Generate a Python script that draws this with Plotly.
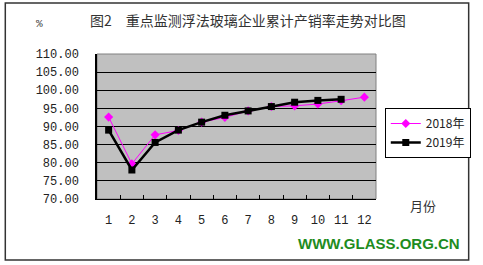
import plotly.graph_objects as go

months = [str(i) for i in range(1, 13)]
rate_2018 = [92.6, 79.7, 87.7, 88.9, 91.2, 92.5, 94.3, 95.5, 95.7, 96.2, 97.1, 98.1]
rate_2019 = [89.0, 78.0, 85.6, 89.0, 91.2, 93.1, 94.3, 95.5, 96.7, 97.2, 97.5]
yticks = [70, 75, 80, 85, 90, 95, 100, 105, 110]
ytick_text = ["%.2f" % v for v in yticks]

W, H = 483, 265
L, R, T, B = 97, 383, 54, 199

def px(x):
    return (x - L) / (R - L)

def py(y):
    return (B - y) / (B - T)

fig = go.Figure()
fig.add_trace(go.Scatter(
    x=months, y=rate_2018, name="2018年", mode="lines+markers",
    line=dict(color="#FF00FF", width=1),
    marker=dict(symbol="diamond", size=7, color="#FF00FF"),
))
fig.add_trace(go.Scatter(
    x=months[:len(rate_2019)], y=rate_2019, name="2019年", mode="lines+markers",
    line=dict(color="#000000", width=2.5),
    marker=dict(symbol="square", size=7, color="#000000"),
))

num_font = dict(family="Liberation Mono", size=12, color="#222")

fig.update_layout(
    width=W, height=H,
    margin=dict(l=L, r=W - R, t=T, b=H - B),
    paper_bgcolor="white", plot_bgcolor="#C0C0C0",
    showlegend=True,
    legend=dict(x=px(392), y=py(108), xanchor="left", yanchor="top",
                bordercolor="#000", borderwidth=1, bgcolor="white",
                font=dict(family="Noto Sans CJK SC", size=12, color="#222"),
                tracegroupgap=0, itemwidth=30),
    xaxis=dict(type="category", range=[-0.5, 11.5], tickson="boundaries",
               ticks="inside", ticklen=4, tickcolor="#000", tickangle=0,
               showgrid=False, showline=True, linecolor="#000", linewidth=1,
               tickfont=dict(family="Liberation Mono", size=12, color="#222"),
               ticklabelstandoff=10, fixedrange=True),
    yaxis=dict(range=[70, 110], tickvals=yticks, ticktext=ytick_text,
               showgrid=True, gridcolor="#000", gridwidth=1,
               showline=True, linecolor="#000", linewidth=1.5,
               ticks="", tickfont=num_font, ticklabelstandoff=14,
               zeroline=False, fixedrange=True),
    font=dict(family="Noto Sans CJK SC"),
    shapes=[
        dict(type="rect", xref="paper", yref="paper", x0=0, x1=1, y0=0, y1=1,
             line=dict(color="#808080", width=1), layer="below"),
        dict(type="rect", xref="paper", yref="paper",
             x0=px(3), x1=px(478), y0=py(260), y1=py(3),
             line=dict(color="#333", width=1.5)),
    ],
    annotations=[
        dict(text="图2　重点监测浮法玻璃企业累计产销率走势对比图", xref="paper", yref="paper",
             x=px(88), y=py(20), xanchor="left", yanchor="middle", showarrow=False,
             font=dict(family="Noto Sans CJK SC", size=14, color="#333")),
        dict(text="%", xref="paper", yref="paper", x=px(38), y=py(24),
             xanchor="center", yanchor="middle", showarrow=False,
             font=dict(family="Liberation Mono", size=11, color="#444")),
        dict(text="月份", xref="paper", yref="paper", x=px(431), y=py(205),
             xanchor="center", yanchor="middle", showarrow=False,
             font=dict(family="Noto Sans CJK SC", size=13, color="#333")),
        dict(text="<b>WWW.GLASS.ORG.CN</b>", xref="paper", yref="paper",
             x=px(471), y=py(243), xanchor="right", yanchor="middle", showarrow=False,
             font=dict(family="Liberation Sans", size=15, color="#1E8C1E")),
    ],
)

fig.write_html("out.html")
